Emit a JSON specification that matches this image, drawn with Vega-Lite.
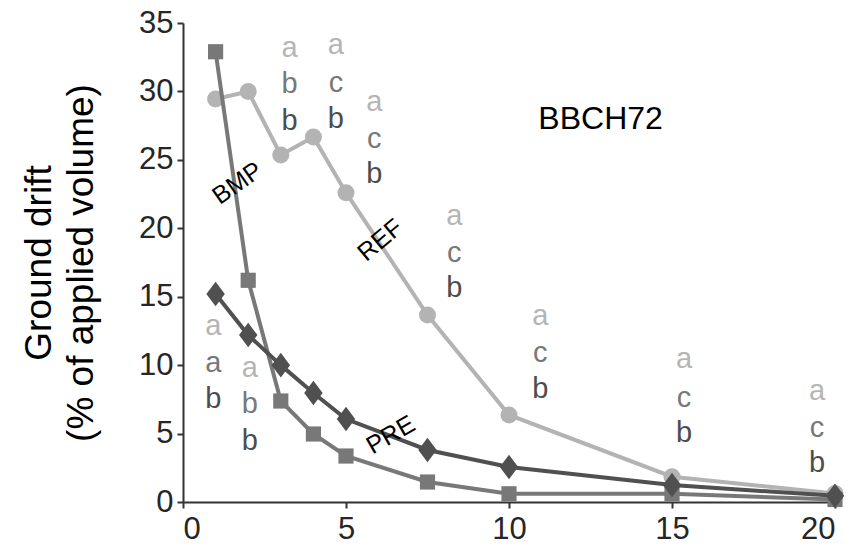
{
  "$schema": "https://vega.github.io/schema/vega-lite/v6.json",
  "width": 652,
  "height": 479,
  "autosize": {"type": "none"},
  "padding": {"left": 183, "top": 23, "right": 21, "bottom": 47},
  "background": "white",
  "config": {
    "view": {"stroke": null},
    "font": "Liberation Sans",
    "axis": {
      "grid": false,
      "domainColor": "#333333",
      "domainWidth": 2,
      "tickColor": "#333333",
      "tickWidth": 2,
      "tickSize": 6,
      "labelFont": "Liberation Sans",
      "labelFontSize": 31,
      "labelColor": "#262626",
      "titleFont": "Liberation Sans",
      "titleFontWeight": "normal",
      "titleColor": "#000000"
    }
  },
  "datasets": {
    "drift": [
      {"x": 1, "y": 29.45, "s": "REF"},
      {"x": 2, "y": 30.0, "s": "REF"},
      {"x": 3, "y": 25.35, "s": "REF"},
      {"x": 4, "y": 26.67, "s": "REF"},
      {"x": 5, "y": 22.6, "s": "REF"},
      {"x": 7.5, "y": 13.66, "s": "REF"},
      {"x": 10, "y": 6.36, "s": "REF"},
      {"x": 15, "y": 1.85, "s": "REF"},
      {"x": 20, "y": 0.62, "s": "REF"},
      {"x": 1, "y": 32.9, "s": "BMP"},
      {"x": 2, "y": 16.2, "s": "BMP"},
      {"x": 3, "y": 7.38, "s": "BMP"},
      {"x": 4, "y": 4.97, "s": "BMP"},
      {"x": 5, "y": 3.36, "s": "BMP"},
      {"x": 7.5, "y": 1.46, "s": "BMP"},
      {"x": 10, "y": 0.6, "s": "BMP"},
      {"x": 15, "y": 0.6, "s": "BMP"},
      {"x": 20, "y": 0.18, "s": "BMP"},
      {"x": 1, "y": 15.2, "s": "PRE"},
      {"x": 2, "y": 12.2, "s": "PRE"},
      {"x": 3, "y": 10.0, "s": "PRE"},
      {"x": 4, "y": 7.96, "s": "PRE"},
      {"x": 5, "y": 6.06, "s": "PRE"},
      {"x": 7.5, "y": 3.8, "s": "PRE"},
      {"x": 10, "y": 2.56, "s": "PRE"},
      {"x": 15, "y": 1.24, "s": "PRE"},
      {"x": 20, "y": 0.45, "s": "PRE"}
    ],
    "letters": [
      {"x": 0.93, "y": 12.2, "t": "a", "s": "REF"},
      {"x": 0.93, "y": 9.5, "t": "a", "s": "BMP"},
      {"x": 0.93, "y": 6.87, "t": "b", "s": "PRE"},
      {"x": 2.05, "y": 9.13, "t": "a", "s": "REF"},
      {"x": 2.05, "y": 6.5, "t": "b", "s": "BMP"},
      {"x": 2.05, "y": 3.8, "t": "b", "s": "PRE"},
      {"x": 3.27, "y": 32.5, "t": "a", "s": "REF"},
      {"x": 3.27, "y": 29.9, "t": "b", "s": "BMP"},
      {"x": 3.27, "y": 27.2, "t": "b", "s": "PRE"},
      {"x": 4.69, "y": 32.7, "t": "a", "s": "REF"},
      {"x": 4.69, "y": 29.96, "t": "c", "s": "BMP"},
      {"x": 4.69, "y": 27.3, "t": "b", "s": "PRE"},
      {"x": 5.87, "y": 28.6, "t": "a", "s": "REF"},
      {"x": 5.87, "y": 25.9, "t": "c", "s": "BMP"},
      {"x": 5.87, "y": 23.3, "t": "b", "s": "PRE"},
      {"x": 8.32, "y": 20.24, "t": "a", "s": "REF"},
      {"x": 8.32, "y": 17.54, "t": "c", "s": "BMP"},
      {"x": 8.32, "y": 14.98, "t": "b", "s": "PRE"},
      {"x": 10.96, "y": 12.93, "t": "a", "s": "REF"},
      {"x": 10.96, "y": 10.23, "t": "c", "s": "BMP"},
      {"x": 10.96, "y": 7.6, "t": "b", "s": "PRE"},
      {"x": 15.37, "y": 9.79, "t": "a", "s": "REF"},
      {"x": 15.37, "y": 6.94, "t": "c", "s": "BMP"},
      {"x": 15.37, "y": 4.38, "t": "b", "s": "PRE"},
      {"x": 19.45, "y": 7.45, "t": "a", "s": "REF"},
      {"x": 19.45, "y": 4.75, "t": "c", "s": "BMP"},
      {"x": 19.45, "y": 2.19, "t": "b", "s": "PRE"}
    ]
  },
  "layer": [
    {
      "data": {"name": "drift"},
      "transform": [{"filter": "datum.s === 'REF'"}],
      "mark": {"type": "line", "color": "#b3b3b3", "strokeWidth": 4,
        "point": {"filled": true, "shape": "circle", "size": 290, "color": "#b3b3b3", "opacity": 1}},
      "encoding": {
        "x": {"field": "x", "type": "quantitative",
          "scale": {"domain": [0, 20], "nice": false},
          "axis": {"values": [0, 5, 10, 15, 20], "title": null, "labelPadding": 6}},
        "y": {"field": "y", "type": "quantitative",
          "scale": {"domain": [0, 35], "nice": false},
          "axis": {"values": [0, 5, 10, 15, 20, 25, 30, 35],
            "title": ["Ground drift", "(% of applied volume)"],
            "titleFontSize": 37, "titleLineHeight": 42, "titlePadding": 38, "labelPadding": 4}}
      }
    },
    {
      "data": {"name": "drift"},
      "transform": [{"filter": "datum.s === 'BMP'"}],
      "mark": {"type": "line", "color": "#787878", "strokeWidth": 4,
        "point": {"filled": true, "shape": "square", "size": 230, "color": "#787878", "opacity": 1}},
      "encoding": {
        "x": {"field": "x", "type": "quantitative"},
        "y": {"field": "y", "type": "quantitative"}
      }
    },
    {
      "data": {"name": "drift"},
      "transform": [{"filter": "datum.s === 'PRE'"}],
      "mark": {"type": "line", "color": "#505050", "strokeWidth": 4,
        "point": {"filled": true, "shape": "M0,-1.2L0.9,0L0,1.2L-0.9,0Z", "size": 420, "color": "#505050", "opacity": 1}},
      "encoding": {
        "x": {"field": "x", "type": "quantitative"},
        "y": {"field": "y", "type": "quantitative"}
      }
    },
    {
      "data": {"name": "letters"},
      "mark": {"type": "text", "fontSize": 29, "align": "center", "baseline": "alphabetic", "font": "Liberation Sans"},
      "encoding": {
        "x": {"field": "x", "type": "quantitative"},
        "y": {"field": "y", "type": "quantitative"},
        "text": {"field": "t"},
        "color": {"field": "s", "type": "nominal",
          "scale": {"domain": ["REF", "BMP", "PRE"], "range": ["#b5b5b5", "#787878", "#4d4d4d"]},
          "legend": null}
      }
    },
    {
      "data": {"values": [{"x": 12.81, "y": 27.25, "t": "BBCH72"}]},
      "mark": {"type": "text", "fontSize": 32, "align": "center", "baseline": "alphabetic", "color": "#000000"},
      "encoding": {
        "x": {"field": "x", "type": "quantitative"},
        "y": {"field": "y", "type": "quantitative"},
        "text": {"field": "t"}
      }
    },
    {
      "data": {"values": [{"x": 1.67, "y": 23.3, "t": "BMP"}]},
      "mark": {"type": "text", "fontSize": 25, "align": "center", "baseline": "middle", "angle": -35, "color": "#000000"},
      "encoding": {
        "x": {"field": "x", "type": "quantitative"},
        "y": {"field": "y", "type": "quantitative"},
        "text": {"field": "t"}
      }
    },
    {
      "data": {"values": [{"x": 6.05, "y": 19.14, "t": "REF"}]},
      "mark": {"type": "text", "fontSize": 25, "align": "center", "baseline": "middle", "angle": -40, "color": "#000000"},
      "encoding": {
        "x": {"field": "x", "type": "quantitative"},
        "y": {"field": "y", "type": "quantitative"},
        "text": {"field": "t"}
      }
    },
    {
      "data": {"values": [{"x": 6.37, "y": 4.9, "t": "PRE"}]},
      "mark": {"type": "text", "fontSize": 25, "align": "center", "baseline": "middle", "angle": -30, "color": "#000000"},
      "encoding": {
        "x": {"field": "x", "type": "quantitative"},
        "y": {"field": "y", "type": "quantitative"},
        "text": {"field": "t"}
      }
    }
  ]
}
